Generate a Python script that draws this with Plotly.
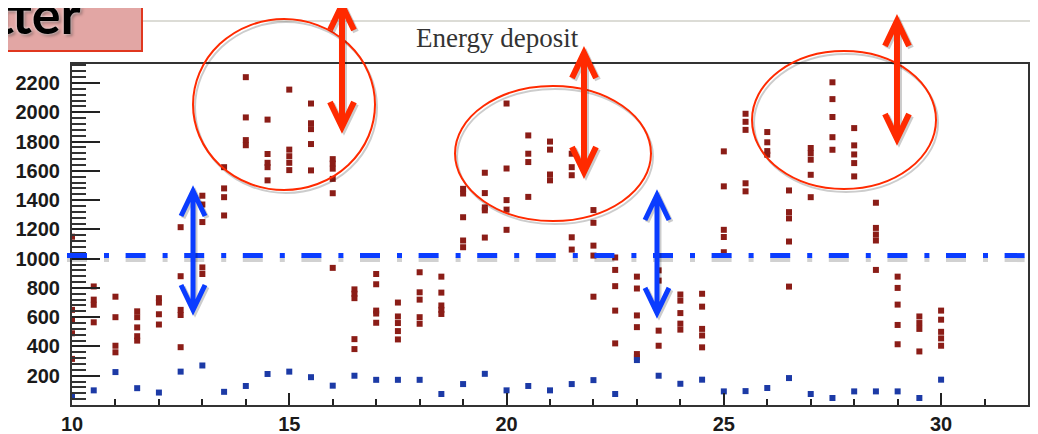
import plotly.graph_objects as go

# ---------------- data ----------------
X_RANGE = [10, 32]
Y_RANGE = [0, 2330]

x_positions = [10, 10.5, 11, 11.5, 12, 12.5, 13, 13.5, 14, 14.5, 15, 15.5, 16, 16.5,
               17, 17.5, 18, 18.5, 19, 19.5, 20, 20.5, 21, 21.5, 22, 22.5, 23, 23.5,
               24, 24.5, 25, 25.5, 26, 26.5, 27, 27.5, 28, 28.5, 29, 29.5, 30]

red_values = [
    [1150, 650, 580, 490, 315],
    [810, 720, 685, 565],
    [740, 600, 405, 360],
    [640, 600, 530, 470, 440],
    [730, 700, 620, 550],
    [1215, 880, 650, 615, 395],
    [1430, 1370, 1250, 940, 895],
    [1625, 1480, 1420, 1295],
    [2240, 1965, 1810, 1775],
    [1950, 1715, 1655, 1625, 1535],
    [2155, 1745, 1700, 1655, 1605],
    [2060, 1925, 1885, 1783, 1603],
    [1680, 1650, 1615, 1545, 1447, 937],
    [790, 760, 730, 450, 382],
    [895, 825, 645, 625, 562],
    [700, 605, 560, 505, 448],
    [907, 770, 720, 600, 555],
    [877, 768, 680, 650, 622],
    [1477, 1445, 1283, 1124, 1078],
    [1587, 1448, 1350, 1330, 1144],
    [2060, 1616, 1400, 1335, 1197],
    [1842, 1717, 1660, 1422],
    [1800, 1745, 1575, 1535],
    [1717, 1625, 1570, 1146, 1062],
    [1332, 1245, 1089, 1021, 740],
    [1008, 923, 812, 645, 421],
    [877, 796, 612, 532, 348, 326],
    [920, 850, 508, 405],
    [755, 713, 628, 556, 515],
    [760, 672, 520, 475, 394],
    [1733, 1494, 1197, 1148, 1044],
    [1990, 1935, 1880, 1515, 1460],
    [1865, 1795, 1735, 1710],
    [1466, 1318, 1275, 1117, 809],
    [1756, 1720, 1676, 1573, 1420],
    [2205, 2090, 1968, 1830, 1744],
    [1892, 1774, 1712, 1653, 1562],
    [1382, 1210, 1165, 1124, 923],
    [877, 800, 686, 547, 415],
    [605, 560, 520, 366],
    [645, 583, 500, 455, 405],
]

blue_values = [65, 100, 225, 115, 85, 228, 270, 90, 130, 212, 228, 190, 132, 200,
               172, 172, 172, 75, 143, 213, 100, 130, 100, 143, 170, 75, 307, 200,
               145, 173, 93, 95, 116, 184, 75, 48, 93, 93, 93, 48, 173]

x_ticks = [10, 15, 20, 25, 30]
y_ticks = [200, 400, 600, 800, 1000, 1200, 1400, 1600, 1800, 2000, 2200]

title_text = "Energy deposit"
badge_text = "tter"

# overlay annotations, in axis units
ellipses = [(12.785, 16.973, 1469, 2637),
            (18.814, 23.324, 1257, 2180),
            (25.649, 29.883, 1476, 2419)]
red_arrows = [(16.213, 2733, 1900), (21.782, 2405, 1592), (28.985, 2624, 1818)]
blue_arrows = [(12.785, 1462, 649), (23.462, 1435, 629)]
threshold = 1021
threshold_span = (9.885, 32.23)

# ---------------- layout geometry ----------------
# the page places the figure 8px from the window's top-left corner
PAGE_OFF = 8
W, H = 1038 - PAGE_OFF, 434 - PAGE_OFF
ML, MR, MT, MB = 72 - PAGE_OFF, 10, 64 - PAGE_OFF, 29
PW, PH = W - ML - MR, H - MT - MB

RED = "#8b1d17"
BLUE = "#1c3aa6"
ANN_RED = "#ff2a00"
ANN_BLUE = "#0a3cff"
SHADOW = "rgba(0,0,0,0.20)"


def xp(x):
    return (x - X_RANGE[0]) / (X_RANGE[1] - X_RANGE[0])


def yp(v):
    return (v - Y_RANGE[0]) / (Y_RANGE[1] - Y_RANGE[0])


def pxx(p):  # window pixel x -> paper
    return (p - PAGE_OFF - ML) / PW


def pxy(p):  # window pixel y (from top) -> paper
    return (H - MB - (p - PAGE_OFF)) / PH


rx = [x for x, vals in zip(x_positions, red_values) for _ in vals]
ry = [v for vals in red_values for v in vals]

fig = go.Figure()
fig.add_trace(go.Scatter(x=rx, y=ry, mode="markers",
                         marker=dict(symbol="square", size=6, color=RED,
                                     line=dict(width=0)),
                         hoverinfo="x+y"))
fig.add_trace(go.Scatter(x=x_positions, y=blue_values, mode="markers",
                         marker=dict(symbol="square", size=6, color=BLUE,
                                     line=dict(width=0)),
                         hoverinfo="x+y"))

shapes = []
# faint top line of the canvas
shapes.append(dict(type="line", xref="paper", yref="paper",
                   x0=pxx(0), x1=pxx(1038), y0=pxy(21), y1=pxy(21),
                   line=dict(color="#dcdcd6", width=2), layer="below"))

# ellipses (with soft shadow)
for (x0, x1, y0, y1) in ellipses:
    shapes.append(dict(type="circle", xref="paper", yref="paper",
                       x0=xp(x0) + 2 / PW, x1=xp(x1) + 2 / PW,
                       y0=yp(y0) - 3 / PH, y1=yp(y1) - 3 / PH,
                       line=dict(color=SHADOW, width=2)))
    shapes.append(dict(type="circle", xref="paper", yref="paper",
                       x0=xp(x0), x1=xp(x1), y0=yp(y0), y1=yp(y1),
                       line=dict(color=ANN_RED, width=2)))

# threshold dash-dot line
dash = "20px,17px,5px,16.6px"
shapes.append(dict(type="line", xref="paper", yref="paper",
                   x0=xp(threshold_span[0]), x1=xp(threshold_span[1]),
                   y0=yp(threshold) - 4 / PH, y1=yp(threshold) - 4 / PH,
                   line=dict(color="rgba(0,0,0,0.18)", width=5, dash=dash)))
shapes.append(dict(type="line", xref="paper", yref="paper",
                   x0=xp(threshold_span[0]), x1=xp(threshold_span[1]),
                   y0=yp(threshold), y1=yp(threshold),
                   line=dict(color=ANN_BLUE, width=5, dash=dash)))


def arrow_path(x, vtop, vbot, hw=12, hh=25, sx=0.0, sy=0.0):
    X = xp(x) + sx / PW
    T = yp(vtop) - sy / PH
    B = yp(vbot) - sy / PH
    dx = hw / PW
    dy = hh / PH
    return (f"M {X},{T} L {X},{B} "
            f"M {X - dx},{T - dy} L {X},{T} L {X + dx},{T - dy} "
            f"M {X - dx},{B + dy} L {X},{B} L {X + dx},{B + dy}")


for (x, vt, vb) in red_arrows:
    shapes.append(dict(type="path", xref="paper", yref="paper",
                       path=arrow_path(x, vt, vb, sx=2, sy=2),
                       line=dict(color=SHADOW, width=6)))
    shapes.append(dict(type="path", xref="paper", yref="paper",
                       path=arrow_path(x, vt, vb),
                       line=dict(color=ANN_RED, width=6)))
for (x, vt, vb) in blue_arrows:
    shapes.append(dict(type="path", xref="paper", yref="paper",
                       path=arrow_path(x, vt, vb, sx=2, sy=2),
                       line=dict(color=SHADOW, width=5)))
    shapes.append(dict(type="path", xref="paper", yref="paper",
                       path=arrow_path(x, vt, vb),
                       line=dict(color=ANN_BLUE, width=5)))

# badge box in the top-left corner (its top/left edges lie outside the view)
shapes.append(dict(type="rect", xref="paper", yref="paper",
                   x0=pxx(-6), x1=pxx(142), y0=pxy(51), y1=pxy(-6),
                   fillcolor="#e2a6a4", line=dict(color="#e0371f", width=2)))

annotations = [
    dict(text=title_text, xref="paper", yref="paper", x=pxx(497), y=pxy(37.6),
         xanchor="center", yanchor="middle", showarrow=False,
         font=dict(family="Liberation Serif", size=27, color="#333333")),
    dict(text=badge_text, xref="paper", yref="paper", x=pxx(83), y=pxy(48),
         xanchor="right", yanchor="bottom", showarrow=False,
         font=dict(family="Lato", size=54, color="#000000", weight="bold",
                   shadow="0px 0px 3px #ffffff, 2px 2px 3px rgba(0,0,0,0.35)")),
]

tickfont = dict(family="Liberation Sans", size=20, color="#1a1a1a", weight="bold")

fig.update_layout(
    width=W, height=H,
    margin=dict(l=ML, r=MR, t=MT, b=MB, pad=0, autoexpand=False),
    paper_bgcolor="white", plot_bgcolor="white",
    showlegend=False,
    shapes=shapes,
    annotations=annotations,
    xaxis=dict(range=X_RANGE, tickmode="array", tickvals=x_ticks,
               ticktext=[str(t) for t in x_ticks], automargin=False,
               ticks="inside", ticklen=12, tickwidth=2, tickcolor="#222",
               minor=dict(dtick=1, tick0=10, ticks="inside", ticklen=6,
                          tickwidth=2, tickcolor="#222"),
               showgrid=False, zeroline=False, showline=True, mirror=True,
               linecolor="#333", linewidth=2, tickfont=tickfont,
               ticklabelstandoff=0),
    yaxis=dict(range=Y_RANGE, tickmode="array", tickvals=y_ticks,
               ticktext=[str(t) for t in y_ticks], automargin=False,
               ticks="inside", ticklen=28, tickwidth=2, tickcolor="#222",
               minor=dict(dtick=40, tick0=0, ticks="inside", ticklen=14,
                          tickwidth=2, tickcolor="#333"),
               showgrid=False, zeroline=False, showline=True, mirror=True,
               linecolor="#333", linewidth=2, tickfont=tickfont,
               ticklabelstandoff=6),
)

fig.write_html("out.html")
